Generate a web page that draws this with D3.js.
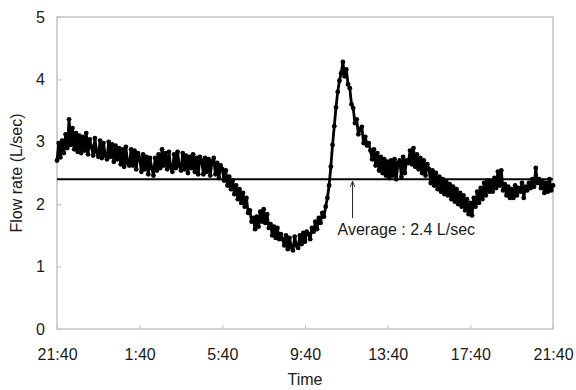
<!DOCTYPE html>
<html>
<head>
<meta charset="utf-8">
<script src="https://cdn.jsdelivr.net/npm/d3@7"></script>
<style>
  body { margin: 0; background: #fff; }
  svg { display: block; font-family: "Liberation Sans", Arial, sans-serif; }
</style>
</head>
<body>
<svg id="chart" width="576" height="390"></svg>
<script>
// Time axis: hours elapsed since 21:40, sampled every 5 minutes
const sampleMinutes = 5;
const flowRate = [
  2.70, 2.98, 2.75, 3.02, 2.82, 3.12, 2.90, 3.36, 2.95, 3.22, 2.88, 3.14,
  2.84, 3.10, 2.82, 3.08, 2.86, 3.14, 2.80, 3.04, 2.92, 2.78, 3.06, 2.84,
  2.76, 3.02, 2.74, 2.98, 2.78, 2.72, 3.00, 2.76, 2.96, 2.68, 2.94, 2.72,
  2.90, 2.64, 2.88, 2.60, 2.92, 2.66, 2.62, 2.88, 2.62, 2.86, 2.56, 2.82,
  2.74, 2.52, 2.80, 2.56, 2.76, 2.48, 2.74, 2.58, 2.46, 2.74, 2.54, 2.80,
  2.58, 2.88, 2.62, 2.82, 2.56, 2.84, 2.60, 2.52, 2.80, 2.58, 2.84, 2.62,
  2.54, 2.82, 2.56, 2.78, 2.50, 2.76, 2.58, 2.80, 2.52, 2.74, 2.48, 2.76,
  2.70, 2.48, 2.74, 2.52, 2.72, 2.46, 2.68, 2.74, 2.48, 2.66, 2.42, 2.62,
  2.56, 2.38, 2.54, 2.30, 2.44, 2.24, 2.38, 2.16, 2.30, 2.08, 2.24, 2.02,
  2.18, 1.96, 2.10, 1.86, 1.90, 1.72, 1.78, 1.60, 1.80, 1.64, 1.88, 1.72,
  1.92, 1.70, 1.84, 1.62, 1.68, 1.50, 1.64, 1.46, 1.62, 1.44, 1.52, 1.44,
  1.34, 1.50, 1.28, 1.46, 1.32, 1.26, 1.48, 1.34, 1.30, 1.50, 1.36, 1.54,
  1.40, 1.56, 1.52, 1.44, 1.62, 1.56, 1.72, 1.60, 1.78, 1.70, 1.86, 1.80,
  1.96, 2.10, 2.30, 2.60, 2.95, 3.25, 3.55, 3.80, 3.98, 4.10, 4.28, 4.05,
  4.16, 3.92, 3.86, 3.60, 3.54, 3.30, 3.36, 3.12, 3.20, 3.24, 2.98, 3.08,
  2.94, 2.98, 2.86, 2.72, 2.88, 2.62, 2.82, 2.54, 2.76, 2.50, 2.72, 2.46,
  2.68, 2.42, 2.70, 2.46, 2.72, 2.40, 2.66, 2.70, 2.44, 2.76, 2.50, 2.70,
  2.66, 2.86, 2.64, 2.90, 2.60, 2.80, 2.56, 2.74, 2.50, 2.70, 2.46, 2.64,
  2.56, 2.34, 2.54, 2.30, 2.50, 2.24, 2.44, 2.20, 2.40, 2.16, 2.36, 2.14,
  2.32, 2.08, 2.28, 2.04, 2.24, 2.00, 2.18, 1.96, 2.14, 1.90, 2.08, 1.84,
  2.02, 1.82, 2.10, 1.96, 2.20, 2.02, 2.26, 2.08, 2.34, 2.14, 2.38, 2.20,
  2.36, 2.20, 2.42, 2.26, 2.52, 2.30, 2.54, 2.22, 2.32, 2.14, 2.28, 2.10,
  2.24, 2.10, 2.30, 2.14, 2.26, 2.20, 2.34, 2.10, 2.28, 2.22, 2.34, 2.26,
  2.40, 2.28, 2.58, 2.34, 2.40, 2.26, 2.36, 2.18, 2.34, 2.20, 2.40, 2.22,
  2.30
];
const averageFlow = 2.4;
const xTickHours = [0, 4, 8, 12, 16, 20, 24];
const xTickLabels = ["21:40", "1:40", "5:40", "9:40", "13:40", "17:40", "21:40"];
const yTicks = [0, 1, 2, 3, 4, 5];
const xTitle = "Time";
const yTitle = "Flow rate (L/sec)";
const annotation = "Average : 2.4 L/sec";
const annotationHour = 14.3;

const svg = d3.select("#chart");
const pLeft = 57, pRight = 553, pTop = 17, pBottom = 329;
const x = d3.scaleLinear().domain([0, 24]).range([pLeft, pRight]);
const y = d3.scaleLinear().domain([0, 5]).range([pBottom, pTop]);
const textColor = "#1a1a1a";
const frameColor = "#c4c4c4";

// frame
svg.append("rect")
  .attr("x", pLeft).attr("y", pTop)
  .attr("width", pRight - pLeft).attr("height", pBottom - pTop)
  .attr("fill", "none").attr("stroke", frameColor).attr("stroke-width", 1.5);

// x axis
const gx = svg.append("g").attr("transform", `translate(0,${pBottom})`)
  .call(d3.axisBottom(x).tickValues(xTickHours)
    .tickFormat((d, i) => xTickLabels[i])
    .tickSizeInner(-4).tickSizeOuter(0).tickPadding(20));
gx.select(".domain").remove();
gx.selectAll(".tick line").attr("stroke", frameColor).attr("stroke-width", 1.2);
gx.selectAll(".tick text").attr("font-size", 16).attr("fill", textColor)
  .attr("font-family", "Liberation Sans, Arial, sans-serif");

// y axis
const gy = svg.append("g").attr("transform", `translate(${pLeft},0)`)
  .call(d3.axisLeft(y).tickValues(yTicks).tickFormat(d3.format("d"))
    .tickSizeInner(-4).tickSizeOuter(0).tickPadding(12));
gy.select(".domain").remove();
gy.selectAll(".tick line").attr("stroke", frameColor).attr("stroke-width", 1.2);
gy.selectAll(".tick text").attr("font-size", 16).attr("fill", textColor)
  .attr("font-family", "Liberation Sans, Arial, sans-serif");

// titles
svg.append("text").attr("x", (pLeft + pRight) / 2).attr("y", 385)
  .attr("text-anchor", "middle").attr("font-size", 16).attr("fill", textColor)
  .text(xTitle);
svg.append("text")
  .attr("transform", `translate(22,${(pTop + pBottom) / 2}) rotate(-90)`)
  .attr("text-anchor", "middle").attr("font-size", 16).attr("fill", textColor)
  .text(yTitle);

// data
const pts = flowRate.map((v, i) => [i * sampleMinutes / 60, v]);
svg.append("path").datum(pts)
  .attr("fill", "none").attr("stroke", "#000").attr("stroke-width", 2.8)
  .attr("stroke-linejoin", "round")
  .attr("d", d3.line().x(d => x(d[0])).y(d => y(d[1])));
svg.append("g").selectAll("circle").data(pts).join("circle")
  .attr("cx", d => x(d[0])).attr("cy", d => y(d[1]))
  .attr("r", 2.4).attr("fill", "#000");

// average line
svg.append("line")
  .attr("x1", pLeft).attr("x2", pRight)
  .attr("y1", y(averageFlow)).attr("y2", y(averageFlow))
  .attr("stroke", "#000").attr("stroke-width", 2.2);

// annotation arrow
const ax = x(annotationHour);
svg.append("defs").append("marker")
  .attr("id", "arr").attr("viewBox", "0 0 10 10")
  .attr("refX", 10).attr("refY", 5)
  .attr("markerWidth", 6).attr("markerHeight", 6)
  .attr("orient", "auto")
  .append("path").attr("d", "M0,1 L10,5 L0,9").attr("fill", "none")
  .attr("stroke", "#222").attr("stroke-width", 1.5);
svg.append("line")
  .attr("x1", ax).attr("x2", ax)
  .attr("y1", 218).attr("y2", y(averageFlow) + 2)
  .attr("stroke", "#222").attr("stroke-width", 1)
  .attr("marker-end", "url(#arr)");
svg.append("text").attr("x", ax - 15).attr("y", 235)
  .attr("font-size", 16).attr("fill", textColor)
  .text(annotation);
</script>
</body>
</html>
